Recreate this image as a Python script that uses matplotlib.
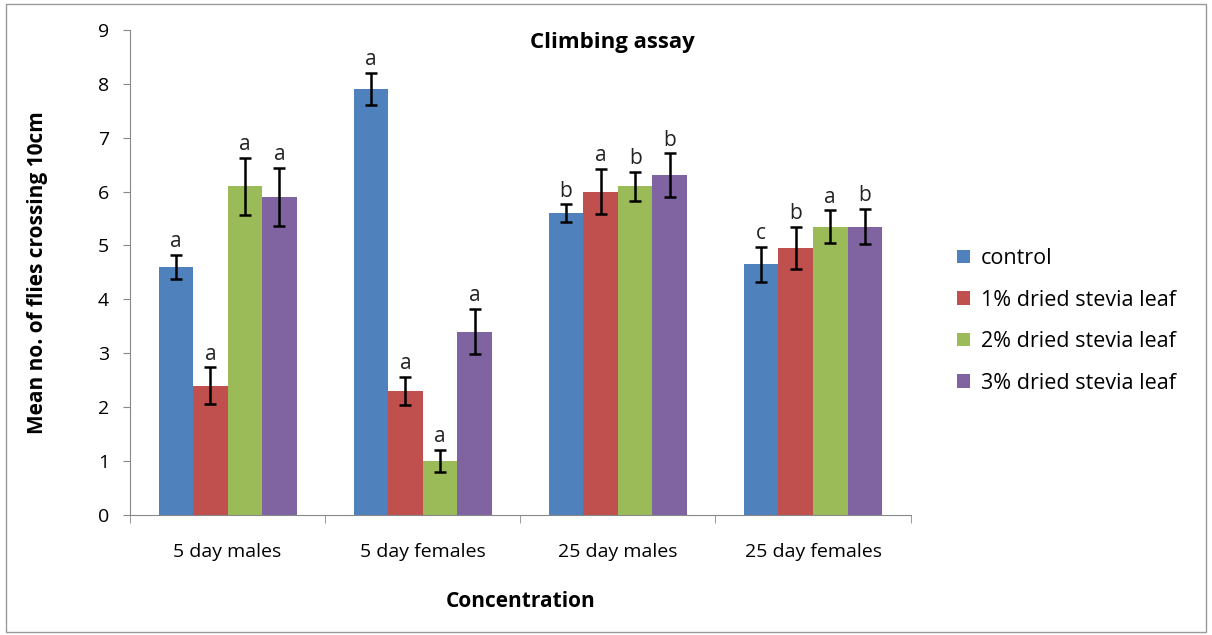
import numpy as np
import matplotlib.pyplot as plt
from matplotlib.patches import Rectangle

plt.rcParams['font.family'] = ['Open Sans', 'DejaVu Sans']

groups = ['5 day males', '5 day females', '25 day males', '25 day females']
series = ['control', '1% dried stevia leaf', '2% dried stevia leaf', '3% dried stevia leaf']
colors = ['#4F81BD', '#C0504D', '#9BBB59', '#8064A2']

# rows = series, columns = groups
means = np.array([
    [4.6, 7.9, 5.6, 4.65],
    [2.4, 2.3, 6.0, 4.95],
    [6.1, 1.0, 6.1, 5.35],
    [5.9, 3.4, 6.3, 5.35],
])
errs = np.array([
    [0.22, 0.30, 0.16, 0.33],
    [0.34, 0.26, 0.42, 0.39],
    [0.53, 0.21, 0.27, 0.30],
    [0.54, 0.42, 0.41, 0.33],
])
letters = [
    ['a', 'a', 'b', 'c'],
    ['a', 'a', 'a', 'b'],
    ['a', 'a', 'b', 'a'],
    ['a', 'a', 'b', 'b'],
]

fig = plt.figure(figsize=(12.12, 6.35), dpi=100)
ax = fig.add_axes([0.1073, 0.189, 0.644, 0.764])

x = np.arange(len(groups))
w = 0.177
for i, name in enumerate(series):
    pos = x + (i - 1.5) * w
    ax.bar(pos, means[i], w, color=colors[i], label=name,
           yerr=errs[i], capsize=4.5,
           error_kw=dict(ecolor='black', elinewidth=1.8, capthick=1.8))
    for j in range(len(groups)):
        ax.text(pos[j], means[i, j] + errs[i, j] + 0.05, letters[i][j],
                ha='center', va='bottom', fontsize=15, color='#222222')

ax.set_xlim(-0.5, len(groups) - 0.5)
ax.set_ylim(0, 9)
ax.set_yticks(range(10))
ax.set_xticks(x)
ax.set_xticklabels(groups, fontsize=14)
ax.set_xticks(np.arange(-0.5, len(groups)), minor=True)
ax.tick_params(axis='x', which='major', length=0, pad=20)
ax.tick_params(axis='x', which='minor', length=6, color='#888888')
ax.tick_params(axis='y', length=5, color='#888888', labelsize=14, pad=10)
for s in ['top', 'right']:
    ax.spines[s].set_visible(False)
for s in ['left', 'bottom']:
    ax.spines[s].set_color('#888888')

fig.text(0.505, 0.933, 'Climbing assay', fontsize=16, fontweight='bold',
         ha='center', va='center')
ax.set_xlabel('Concentration', fontsize=15, fontweight='bold', labelpad=22)
ax.set_ylabel('Mean no. of flies crossing 10cm', fontsize=15, fontweight='bold', labelpad=36)

ax.legend(loc='center left', bbox_to_anchor=(1.035, 0.40), frameon=False,
          fontsize=15.5, handlelength=0.6, handleheight=0.6, handletextpad=0.5,
          labelspacing=0.95)

fig.patches.append(Rectangle((0.005, 0.005), 0.99, 0.988, transform=fig.transFigure,
                             fill=False, edgecolor='#999999', linewidth=1))

fig.savefig('out.png', dpi=100)
